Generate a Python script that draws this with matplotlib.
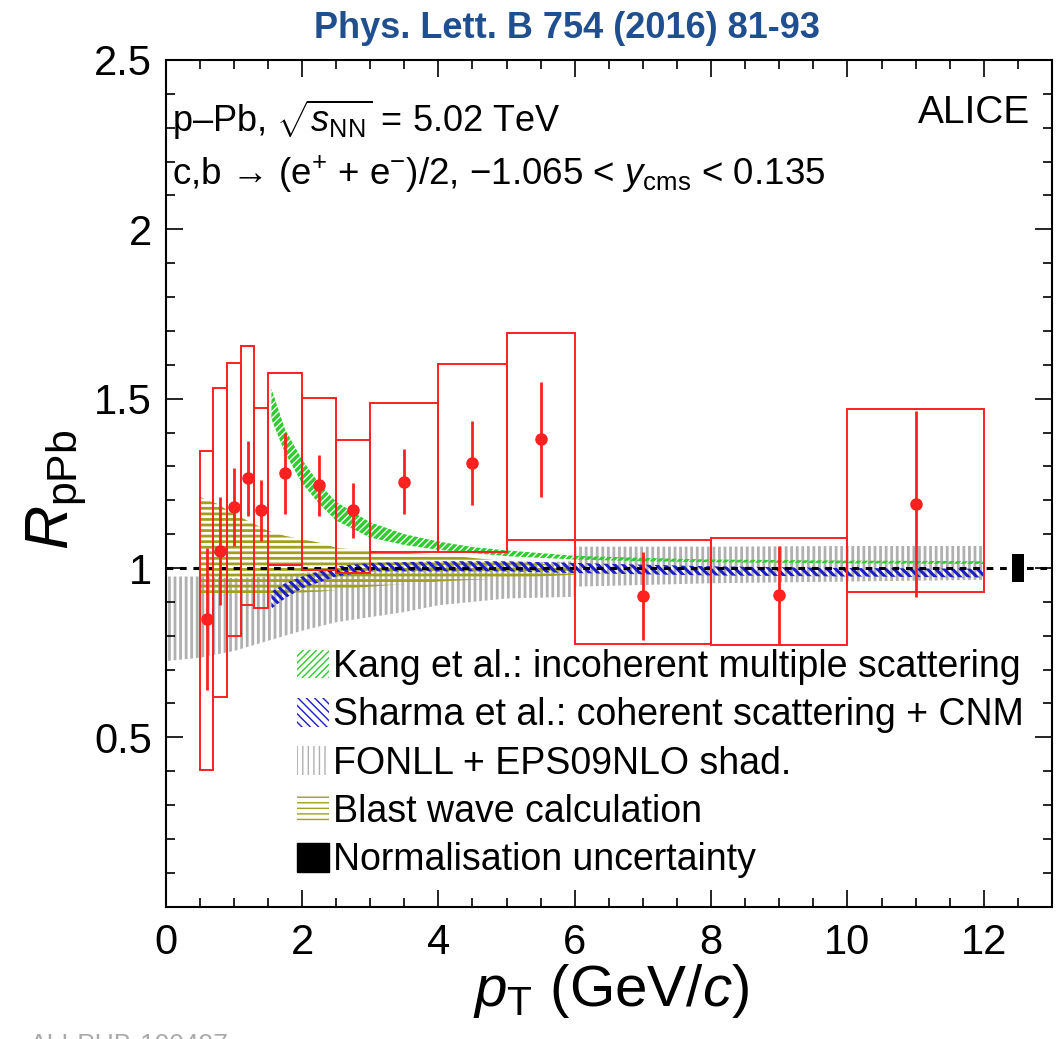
import matplotlib
matplotlib.use("Agg")
import matplotlib.pyplot as plt
from matplotlib.patches import Rectangle, Patch
from matplotlib.ticker import MultipleLocator
import numpy as np

plt.rcParams['font.family'] = ['Liberation Sans', 'DejaVu Sans']
plt.rcParams['mathtext.fontset'] = 'custom'
plt.rcParams['mathtext.rm'] = 'Liberation Sans'
plt.rcParams['mathtext.it'] = 'Liberation Sans:italic'
plt.rcParams['mathtext.bf'] = 'Liberation Sans:bold'

# ---------------- data ----------------
pt = [0.6, 0.8, 1.0, 1.2, 1.4, 1.75, 2.25, 2.75, 3.5, 4.5, 5.5, 7.0, 9.0, 11.0]
pt_lo = [0.5, 0.7, 0.9, 1.1, 1.3, 1.5, 2.0, 2.5, 3.0, 4.0, 5.0, 6.0, 8.0, 10.0]
pt_hi = [0.7, 0.9, 1.1, 1.3, 1.5, 2.0, 2.5, 3.0, 4.0, 5.0, 6.0, 8.0, 10.0, 12.0]
rppb = [0.85, 1.05, 1.18, 1.265, 1.17, 1.28, 1.245, 1.17, 1.255, 1.31, 1.38, 0.917, 0.92, 1.19]
stat = [0.21, 0.16, 0.115, 0.11, 0.09, 0.12, 0.09, 0.08, 0.095, 0.125, 0.17, 0.13, 0.145, 0.275]
syst_low = [0.404, 0.62, 0.80, 0.891, 0.881, 1.009, 0.995, 0.984, 1.048, 1.048, 1.083, 0.775, 0.773, 0.93]
syst_high = [1.346, 1.533, 1.604, 1.656, 1.472, 1.577, 1.501, 1.378, 1.486, 1.601, 1.695, 1.083, 1.089, 1.471]

norm_x = 12.5
norm_unc = 0.042

kang_pt = [1.55, 1.75, 2.0, 2.25, 2.5, 3.0, 3.5, 4.0, 4.5, 5.0, 6.0, 7.0, 8.0, 10.0, 12.0]
kang_hi = [1.53, 1.41, 1.32, 1.25, 1.195, 1.135, 1.10, 1.078, 1.062, 1.052, 1.036, 1.03, 1.025, 1.022, 1.02]
kang_lo = [1.44, 1.34, 1.25, 1.19, 1.14, 1.09, 1.068, 1.054, 1.044, 1.035, 1.025, 1.02, 1.017, 1.014, 1.012]

sharma_pt = [1.55, 1.75, 2.0, 2.5, 3.0, 4.0, 5.0, 6.0, 8.0, 10.0, 12.0]
sharma_hi = [0.93, 0.955, 0.975, 1.005, 1.015, 1.02, 1.02, 1.015, 1.005, 1.0, 0.998]
sharma_lo = [0.88, 0.91, 0.94, 0.975, 0.99, 0.99, 0.99, 0.985, 0.978, 0.975, 0.972]

fonll_pt = [0.0, 0.5, 1.0, 1.5, 2.0, 2.5, 3.0, 3.5, 4.0, 5.0, 5.99, 6.0, 8.0, 10.0, 12.0]
fonll_hi = [0.975, 0.975, 0.97, 0.975, 0.985, 0.995, 1.0, 1.005, 1.01, 1.015, 1.02, 1.063, 1.063, 1.065, 1.065]
fonll_lo = [0.725, 0.735, 0.755, 0.785, 0.815, 0.84, 0.855, 0.87, 0.89, 0.91, 0.915, 0.945, 0.955, 0.96, 0.965]

bw_pt = [0.5, 0.75, 1.0, 1.25, 1.5, 1.75, 2.0, 2.25, 2.5, 3.0, 4.0, 5.0, 6.0]
bw_hi = [1.21, 1.19, 1.16, 1.135, 1.11, 1.095, 1.085, 1.075, 1.06, 1.05, 1.04, 1.02, 1.005]
bw_lo = [0.925, 0.925, 0.925, 0.925, 0.926, 0.927, 0.928, 0.93, 0.935, 0.945, 0.96, 0.97, 0.98]

x_ticks = [0, 2, 4, 6, 8, 10, 12]
y_ticks = [0.5, 1.0, 1.5, 2.0, 2.5]
y_ticklabels = ["0.5", "1", "1.5", "2", "2.5"]

legend_labels = ["Kang et al.: incoherent multiple scattering",
                 "Sharma et al.: coherent scattering + CNM",
                 "FONLL + EPS09NLO shad.",
                 "Blast wave calculation",
                 "Normalisation uncertainty"]

# ---------------- colours ----------------
c_green = '#2ecc2e'
c_blue = '#1c1cc8'
c_gray = '#b0b0b0'
c_olive = '#a0a01e'
c_red = '#ff2020'

fig = plt.figure(figsize=(10.64, 10.39), dpi=100)
ax = fig.add_axes([165.7 / 1064, 1 - 906.7 / 1039, (1052 - 165.7) / 1064, (906.7 - 60) / 1039])
ax.set_xlim(0, 13)
ax.set_ylim(0, 2.5)


def band(x, lo, hi, color, hatch, lw, z):
    with plt.rc_context({'hatch.linewidth': lw, 'hatch.color': color}):
        p = ax.fill_between(x, lo, hi, facecolor='none', edgecolor=color, hatch=hatch,
                            linewidth=0, zorder=z)
        try:
            p.set_hatch_linewidth(lw)
        except Exception:
            pass
    return p


band(fonll_pt, fonll_lo, fonll_hi, c_gray, '|||', 2.0, 1)
band(bw_pt, bw_lo, bw_hi, c_olive, '---', 2.0, 2)
band(sharma_pt, sharma_lo, sharma_hi, c_blue, '\\\\\\\\', 2.2, 3)
band(kang_pt, kang_lo, kang_hi, c_green, '/////', 2.4, 4)

# dashed line at 1
ax.axhline(1.0, color='black', lw=2.2, ls=(0, (2.2, 2.2)), zorder=5)

# systematic boxes
for lo, hi, bl, bh in zip(pt_lo, pt_hi, syst_low, syst_high):
    ax.add_patch(Rectangle((lo, bl), hi - lo, bh - bl, facecolor='none',
                           edgecolor=c_red, lw=1.4, zorder=6))

# points with stat errors
ax.errorbar(pt, rppb, yerr=stat, fmt='o', color=c_red, ms=8, elinewidth=2.0,
            capsize=0, zorder=7)

# normalisation box
ax.add_patch(Rectangle((norm_x - 0.09, 1 - norm_unc), 0.18, 2 * norm_unc,
                       facecolor='black', edgecolor='black', lw=0, zorder=8))

# ticks
ax.set_xticks(x_ticks)
ax.set_xticklabels([str(t) for t in x_ticks])
ax.set_yticks(y_ticks)
ax.set_yticklabels(y_ticklabels)
ax.xaxis.set_minor_locator(MultipleLocator(0.5))
ax.yaxis.set_minor_locator(MultipleLocator(0.1))
ax.tick_params(which='both', direction='in', top=True, right=True, width=1.2,
               labelsize=30)
ax.tick_params(which='major', length=12)
ax.tick_params(which='minor', length=6.5)
ax.tick_params(axis='x', pad=12)
ax.tick_params(axis='y', pad=10)
for s in ax.spines.values():
    s.set_linewidth(1.5)

# axis titles (centred, ROOT style)
fig.text(611 / 1064, 1 - 962 / 1039, r'$p_{\rm T}$ (GeV/$c$)', fontsize=42,
         ha='center', va='top')
fig.text(57 / 1064, 1 - 490 / 1039, r'$R_{\rm pPb}$', fontsize=44, rotation=90,
         ha='center', va='center')

# texts
fig.text(172 / 1064, 1 - 132 / 1039, r'p–Pb, $\sqrt{s_{\rm NN}}$ = 5.02 TeV', fontsize=26,
         ha='left', va='baseline')
fig.text(172 / 1064, 1 - 185 / 1039,
         'c,b \u2192 (e$^{+}$ + e$^{-}$)/2, \u22121.065 < $y_{\\rm cms}$ < 0.135',
         fontsize=26.5, ha='left', va='baseline')
fig.text(1030 / 1064, 1 - 123 / 1039, 'ALICE', fontsize=28, ha='right', va='baseline')

fig.text(567 / 1064, 1 - 28 / 1039, 'Phys. Lett. B 754 (2016) 81-93', fontsize=26,
         family=['Liberation Sans Narrow', 'Liberation Sans'], weight='bold',
         color='#1f4f8f', ha='center', va='center')

fig.text(30 / 1064, -0.006, 'ALI-PUB-100497', fontsize=19, color='#aaaaaa',
         ha='left', va='center')

# legend
handles = []
specs = [(c_green, '/////'), (c_blue, '\\\\\\\\'), (c_gray, '|||'), (c_olive, '---')]
for col, h in specs:
    with plt.rc_context({'hatch.linewidth': 2.0, 'hatch.color': col}):
        p = Patch(facecolor='none', edgecolor=col, hatch=h, linewidth=0)
        try:
            p.set_hatch_linewidth(2.0)
        except Exception:
            pass
    handles.append(p)
handles.append(Patch(facecolor='black', edgecolor='black'))
leg = ax.legend(handles, legend_labels, loc='upper left',
                bbox_to_anchor=((297 - 165.7) / 886.3, (906.7 - 649) / 846.7),
                frameon=False, fontsize=27, handlelength=0.85, handleheight=0.8,
                handletextpad=0.12, labelspacing=0.33, borderaxespad=0, borderpad=0)

fig.savefig('out.png', dpi=100)
